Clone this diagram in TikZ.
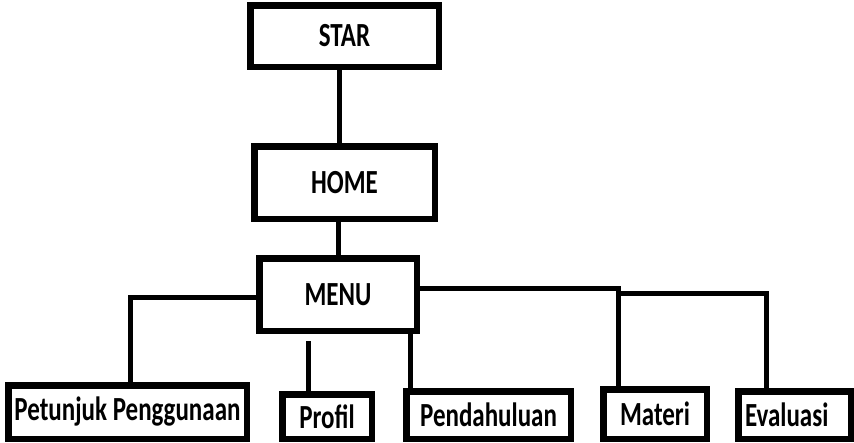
\documentclass[tikz,border=0pt]{standalone}
\usepackage{fontspec}
\setmainfont{Carlito}
\usetikzlibrary{positioning}
\tikzset{
    box/.style={rectangle, draw=black, fill=white, line width=6.5pt, inner sep=0pt, font=\bfseries\fontsize{25}{29}\selectfont},
    link/.style={draw=black, line width=5pt},
}
\newcommand{\tall}[1]{\scalebox{1}[1.35]{#1}}

\begin{document}
\begin{tikzpicture}[x=1pt, y=-1pt]
    \useasboundingbox (0,0) rectangle (854,442);
    \node [box, minimum width=188.5pt, minimum height=61.5pt] (star) at (344.5,36) {\tall{STAR}};
    \node [box, minimum width=180.5pt, minimum height=72.5pt] (home) at (344.5,182.5) {\tall{HOME}};
    \node [box, minimum width=157.5pt, minimum height=72.5pt] (menu) at (338,294.5) {\tall{MENU}};
    \node [box, minimum width=238.5pt, minimum height=53.5pt] (petunjuk) at (127.5,412) {\tall{Petunjuk Penggunaan}};
    \node [box, minimum width=89.5pt, minimum height=44.5pt] (profil) at (327,416.5) {\tall{Profil}};
    \node [box, minimum width=164.5pt, minimum height=47.5pt] (pendahuluan) at (488.5,415) {\tall{Pendahuluan}};
    \node [box, minimum width=103.5pt, minimum height=49.5pt] (materi) at (655,414) {\tall{Materi}};
    \node [box, minimum width=112.5pt, minimum height=47.5pt, text width=99pt, align=left] (evaluasi) at (794.5,415) {\tall{Evaluasi}};
    % anchor points of the lines
    \coordinate (profiltop) at ([xshift=-19pt]profil.north);
    \coordinate (menugap) at ([yshift=-7pt]menu.south);
    \coordinate (pendtop) at ([xshift=-78.5pt]pendahuluan.north);
    \coordinate (materitop) at ([xshift=-37pt]materi.north);
    \coordinate (evaltop) at ([xshift=-28.5pt]evaluasi.north);
    \coordinate (menuright) at ([yshift=1.5pt]menu.east);
    \draw [link] ([xshift=-5.5pt]star.south) -- ([xshift=-5.5pt]home.north);
    \draw [link] (home.south -| menu.north) -- (menu.north);
    \draw [link] ([yshift=-3pt]menu.west) -| ([xshift=2.5pt]petunjuk.north);
    \draw [link] (profiltop) -- (profiltop |- menugap);
    \draw [link] (pendtop) -- (pendtop |- menu.south);
    \draw [link] ([yshift=6.5pt]menu.east) -| (materitop);
    \draw [link] (menuright -| materitop) -| (evaltop);
\end{tikzpicture}
\end{document}
